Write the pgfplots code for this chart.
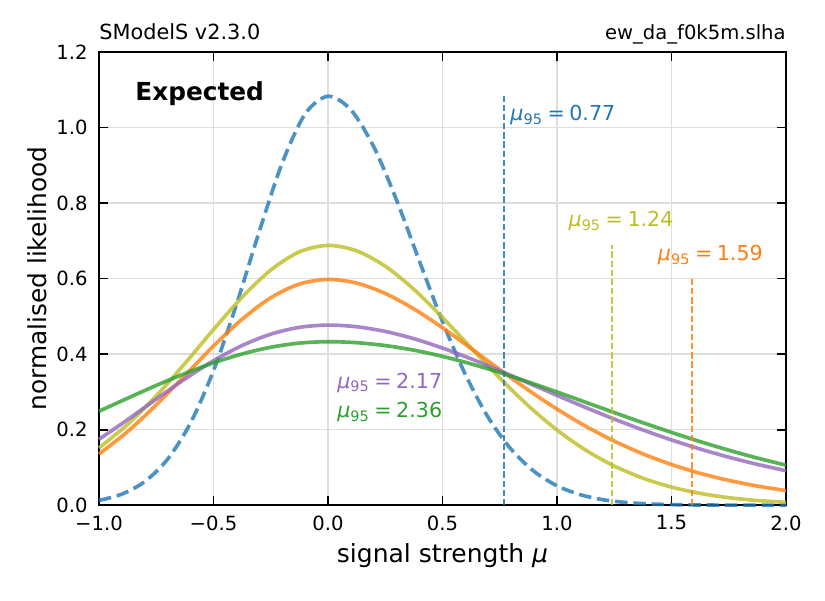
\documentclass[border=0pt]{standalone}
\usepackage{fontspec}
\setmainfont{DejaVu Sans}
\usepackage{pgfplots}
\pgfplotsset{compat=1.18}

\definecolor{tblue}{RGB}{31,119,180}
\definecolor{torange}{RGB}{255,127,14}
\definecolor{tgreen}{RGB}{44,160,44}
\definecolor{tpurple}{RGB}{148,103,189}
\definecolor{tolive}{RGB}{188,189,34}

\newcommand{\mulab}[1]{\textit{μ}\textsubscript{95}\hspace{0.22em}=\hspace{0.22em}#1}

\begin{document}
\begin{tikzpicture}
\begin{axis}[
  scale only axis,
  width=329.8pt, height=217.5pt,
  xmin=-1, xmax=2, ymin=0, ymax=1.2,
  xtick={-1,-0.5,0,0.5,1,1.5,2},
  xticklabels={−1.0,−0.5,0.0,0.5,1.0,1.5,2.0},
  ytick={0,0.2,0.4,0.6,0.8,1.0,1.2},
  yticklabels={0.0,0.2,0.4,0.6,0.8,1.0,1.2},
  tick align=inside,
  tick pos=both,
  major tick length=4.3pt,
  every tick/.style={black, line width=0.8pt},
  axis line style={line width=0.9pt},
  grid=major,
  major grid style={color=black!13, line width=0.7pt},
  ticklabel style={font=\fontsize{9.4}{11}\selectfont},
  xticklabel style={inner sep=0pt, yshift=-4.8pt},
  yticklabel style={inner sep=0pt, xshift=-5.3pt},
  clip=false,
]

% Expected (blue, dashed)
\addplot[tblue, opacity=0.8, line width=1.75pt, dash pattern=on 6pt off 2.8pt, smooth] coordinates {
(-1,0.0126) (-0.9,0.0293) (-0.8,0.0626) (-0.7,0.122) (-0.6,0.218) (-0.5,0.356)
(-0.4,0.531) (-0.3,0.725) (-0.2,0.906) (-0.1,1.036) (0,1.083) (0.1,1.047)
(0.2,0.949) (0.3,0.807) (0.4,0.645) (0.5,0.486) (0.6,0.346) (0.7,0.232)
(0.8,0.148) (0.9,0.0895) (1.0,0.0514) (1.1,0.0281) (1.2,0.0146) (1.3,0.0073)
(1.4,0.0035) (1.5,0.0016) (1.6,0.0007) (1.7,0.0003) (1.8,0.0001) (1.9,0.00005) (2,0.00002)
};

% olive
\addplot[tolive, opacity=0.8, line width=1.75pt, smooth] coordinates {
(-1,0.1517) (-0.875,0.2140) (-0.75,0.2895) (-0.625,0.3751) (-0.5,0.4651) (-0.375,0.5509)
(-0.25,0.6227) (-0.125,0.6709) (0,0.688) (0.125,0.6736) (0.25,0.6330) (0.375,0.5717)
(0.5,0.4970) (0.625,0.4164) (0.75,0.3368) (0.875,0.2632) (1,0.1991) (1.125,0.1459)
(1.25,0.1037) (1.375,0.0716) (1.5,0.0480) (1.625,0.0313) (1.75,0.0199) (1.875,0.0124) (2,0.0075)
};

% orange
\addplot[torange, opacity=0.8, line width=1.75pt, smooth] coordinates {
(-1,0.1353) (-0.875,0.1949) (-0.75,0.2657) (-0.625,0.3432) (-0.5,0.4214) (-0.375,0.4925)
(-0.25,0.5493) (-0.125,0.5856) (0,0.598) (0.125,0.5882) (0.25,0.5608) (0.375,0.5199)
(0.5,0.4699) (0.625,0.4150) (0.75,0.3590) (0.875,0.3048) (1,0.2545) (1.125,0.2092)
(1.25,0.1697) (1.375,0.1359) (1.5,0.1077) (1.625,0.0844) (1.75,0.0657) (1.875,0.0506) (2,0.0388)
};

% purple
\addplot[tpurple, opacity=0.8, line width=1.75pt, smooth] coordinates {
(-1,0.1744) (-0.875,0.2265) (-0.75,0.2809) (-0.625,0.3341) (-0.5,0.3825) (-0.375,0.4229)
(-0.25,0.4529) (-0.125,0.4710) (0,0.477) (0.125,0.4726) (0.25,0.4602) (0.375,0.4409)
(0.5,0.4162) (0.625,0.3875) (0.75,0.3562) (0.875,0.3236) (1,0.2908) (1.125,0.2587)
(1.25,0.2280) (1.375,0.1993) (1.5,0.1728) (1.625,0.1487) (1.75,0.1272) (1.875,0.1081) (2,0.0913)
};

% green
\addplot[tgreen, opacity=0.8, line width=1.75pt, smooth] coordinates {
(-1,0.2488) (-0.875,0.2833) (-0.75,0.3171) (-0.625,0.3487) (-0.5,0.3770) (-0.375,0.4005)
(-0.25,0.4183) (-0.125,0.4293) (0,0.433) (0.125,0.4304) (0.25,0.4228) (0.375,0.4106)
(0.5,0.3941) (0.625,0.3742) (0.75,0.3513) (0.875,0.3262) (1,0.2998) (1.125,0.2726)
(1.25,0.2453) (1.375,0.2185) (1.5,0.1928) (1.625,0.1684) (1.75,0.1457) (1.875,0.1248) (2,0.1060)
};

% mu95 lines
\addplot[tblue, opacity=0.85, line width=0.9pt, dash pattern=on 3pt off 1.4pt] coordinates {(0.77,0) (0.77,1.083)};
\addplot[tolive, opacity=0.85, line width=0.9pt, dash pattern=on 3pt off 1.4pt] coordinates {(1.24,0) (1.24,0.688)};
\addplot[torange, opacity=0.85, line width=0.9pt, dash pattern=on 3pt off 1.4pt] coordinates {(1.59,0) (1.59,0.598)};

% labels
\node[anchor=base west, text=tblue, inner sep=0pt, font=\fontsize{9.9}{12}\selectfont] at (axis cs:0.795,1.0185) {\mulab{0.77}};
\node[anchor=base west, text=tolive, inner sep=0pt, font=\fontsize{9.9}{12}\selectfont] at (axis cs:1.049,0.738) {\mulab{1.24}};
\node[anchor=base west, text=torange, inner sep=0pt, font=\fontsize{9.9}{12}\selectfont] at (axis cs:1.439,0.648) {\mulab{1.59}};
\node[anchor=base west, text=tpurple, inner sep=0pt, font=\fontsize{9.9}{12}\selectfont] at (axis cs:0.039,0.310) {\mulab{2.17}};
\node[anchor=base west, text=tgreen, inner sep=0pt, font=\fontsize{9.9}{12}\selectfont] at (axis cs:0.039,0.231) {\mulab{2.36}};

\node[anchor=base west, inner sep=0pt, font=\fontsize{11.9}{14}\selectfont\bfseries] at (axis cs:-0.843,1.071) {Expected};

% titles
\node[anchor=base west, inner sep=0pt, font=\fontsize{10}{12}\selectfont] at (axis description cs:0,1.0287) {SModelS v2.3.0};
\node[anchor=base east, inner sep=0pt, font=\fontsize{9.4}{11}\selectfont] at (axis description cs:1,1.0287) {ew\_da\_f0k5m.slha};

% axis labels
\node[anchor=base, inner sep=0pt, font=\fontsize{12}{14}\selectfont] at (axis description cs:0.5,-0.1274) {signal strength \textit{μ}};
\node[anchor=base, rotate=90, inner sep=0pt, font=\fontsize{11.9}{14}\selectfont] at (axis description cs:-0.077,0.5) {normalised likelihood};

\end{axis}
\pgfresetboundingbox
\path ([shift={(-47.5pt,-45.6pt)}]current axis.south west) rectangle ([shift={(18.7pt,25pt)}]current axis.north east);
\end{tikzpicture}
\end{document}
